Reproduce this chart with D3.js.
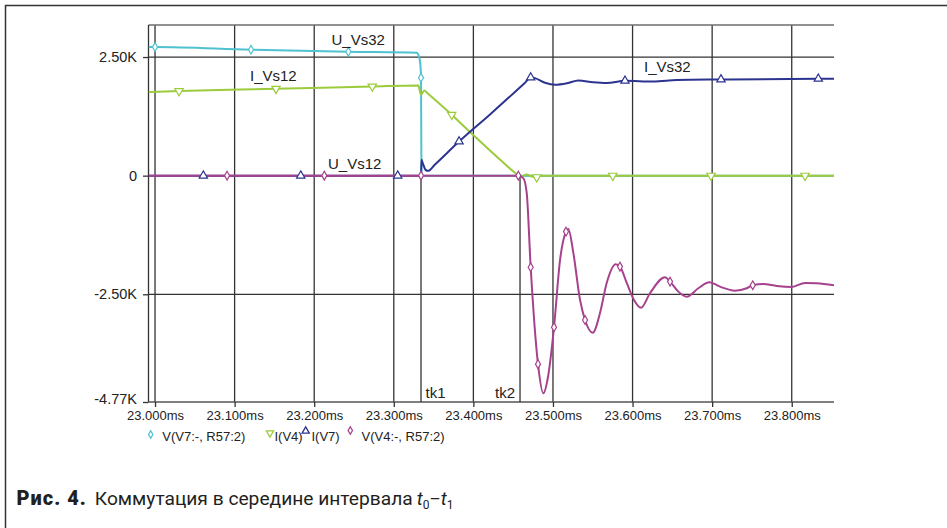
<!DOCTYPE html>
<html>
<head>
<meta charset="utf-8">
<script src="https://cdn.jsdelivr.net/npm/d3@7"></script>
<style>
  body { margin: 0; background: #fff; }
  svg { display: block; }
</style>
</head>
<body>
<svg id="chart" width="947" height="528"></svg>
<script>
// ---- axis ticks ----
const timeTicks = [23.0, 23.1, 23.2, 23.3, 23.4, 23.5, 23.6, 23.7, 23.8];
const timeTickLabels = ["23.000ms", "23.100ms", "23.200ms", "23.300ms", "23.400ms",
                        "23.500ms", "23.600ms", "23.700ms", "23.800ms"];
const valueTicks = [2500, 0, -2500, -4770];
const valueTickLabels = ["2.50K", "0", "-2.50K", "-4.77K"];
const timeDomain = [22.9918, 23.8531];
const valueDomain = [-4770, 3175];

// ---- traces: [time ms, value] ----
// V(V7:-, R57:2)  (U_Vs32)
const uVs32 = [
  [22.9918, 2710], [23.3288, 2590], [23.3317, 2505], [23.3333, 2358],
  [23.3346, 544], [23.3351, 0], [23.8531, 0]
];
const uVs32Markers = [[23.0000, 2710], [23.1206, 2653], [23.2429, 2611], [23.3342, 2063]];

// I(V4)  (I_Vs12)
const iVs12 = [
  [22.9918, 1761], [23.3308, 1900], [23.3342, 1704], [23.3384, 1795],
  [23.3420, 1743], [23.3958, 919], [23.4530, 49],
  [23.4565, 0], [23.4599, -25], [23.4670, 27], [23.4724, -15],
  [23.4850, 0], [23.8531, 0]
];
const iVs12Markers = [[23.0302, 1782], [23.1520, 1831], [23.2730, 1879], [23.3728, 1285],
                      [23.4796, -32], [23.5751, 0], [23.6986, 0], [23.8167, 0]];

// I(V7)  (I_Vs32)
const iVs32 = [
  [22.9918, 0], [23.3342, 0], [23.3348, 333], [23.3367, 249], [23.3399, 122],
  [23.3430, 101], [23.3518, 236], [23.4209, 1291], [23.4649, 1959],
  [23.4774, 2056], [23.4900, 1957], [23.5026, 1915],
  [23.5177, 1947], [23.5319, 2006], [23.5503, 1968], [23.5675, 1951],
  [23.6261, 1985], [23.6555, 2014], [23.8531, 2042]
];
const iVs32Markers = [[23.0607, 0], [23.1831, 0], [23.3049, 0], [23.3820, 719],
                      [23.4720, 2069], [23.5905, 1999], [23.7111, 2027], [23.8334, 2042]];

// V(V4:-, R57:2)  (U_Vs12)
const uVs12 = [
  [22.9918, 0], [23.4627, -53], [23.4670, -362], [23.4879, -4587], [23.4938, -4237],
  [23.5089, -1776], [23.5193, -1122], [23.5256, -1628], [23.5340, -2619],
  [23.5499, -3309], [23.5591, -2894], [23.5675, -2261], [23.5788, -1866],
  [23.5927, -2261], [23.6018, -2619], [23.6106, -2782], [23.6219, -2478],
  [23.6408, -2141], [23.6575, -2444], [23.6681, -2550], [23.6826, -2373],
  [23.6965, -2246], [23.7099, -2339], [23.7288, -2423], [23.7434, -2373],
  [23.7643, -2282], [23.7811, -2324], [23.8000, -2345], [23.8167, -2261],
  [23.8314, -2267], [23.8531, -2309]
];
const uVs12Markers = [[23.0905, 0], [23.2127, 0], [23.3342, 0], [23.4565, 0],
                      [23.4720, -1930], [23.4812, -3972], [23.5013, -3195], [23.5164, -1179],
                      [23.5403, -3041], [23.5842, -1917], [23.6471, -2233], [23.7510, -2309]];

// switching instants
const tkTimes = [23.3342, 23.4586];
const tkNames = ["tk1", "tk2"];

const traceNames = ["U_Vs32", "I_Vs12", "I_Vs32", "U_Vs12"];
const legendNames = ["V(V7:-, R57:2)", "I(V4)", "I(V7)", "V(V4:-, R57:2)"];

// ---- drawing ----
const svg = d3.select("#chart");
const plot = { left: 148.5, right: 834, top: 25, bottom: 402 };
const x = d3.scaleLinear().domain(timeDomain).range([plot.left, plot.right]);
const y = d3.scaleLinear().domain(valueDomain).range([plot.bottom, plot.top]);

const colors = {
  cyan: "#4fc1cf", green: "#9ccb3c", blue: "#2c3490", magenta: "#a6418e"
};
const chartFont = "'Liberation Sans', Arial, sans-serif";

// outer frame (top and left rules)
svg.append("line").attr("x1", 5).attr("x2", 947).attr("y1", 5.5).attr("y2", 5.5)
  .attr("stroke", "#333").attr("stroke-width", 1.5);
svg.append("line").attr("x1", 5.5).attr("x2", 5.5).attr("y1", 5).attr("y2", 528)
  .attr("stroke", "#333").attr("stroke-width", 1.5);

// grid
const grid = svg.append("g");
grid.selectAll(".vg").data(timeTicks).join("line")
  .attr("x1", d => x(d)).attr("x2", d => x(d))
  .attr("y1", plot.top).attr("y2", plot.bottom)
  .attr("stroke", "#333").attr("stroke-width", 1.3);
grid.selectAll(".hg").data(valueTicks.filter(v => v > valueDomain[0])).join("line")
  .attr("x1", plot.left).attr("x2", plot.right)
  .attr("y1", d => y(d)).attr("y2", d => y(d))
  .attr("stroke", "#333").attr("stroke-width", 1.3);
// top border
grid.append("line").attr("x1", plot.left).attr("x2", plot.right)
  .attr("y1", plot.top).attr("y2", plot.top)
  .attr("stroke", "#6e6e6e").attr("stroke-width", 1.6);
// left axis line
grid.append("line").attr("x1", plot.left).attr("x2", plot.left)
  .attr("y1", plot.top).attr("y2", plot.bottom)
  .attr("stroke", "#333").attr("stroke-width", 1.3);
// bottom axis line
grid.append("line").attr("x1", plot.left).attr("x2", plot.right)
  .attr("y1", plot.bottom).attr("y2", plot.bottom)
  .attr("stroke", "#555").attr("stroke-width", 1.6);

// axes (ticks + labels)
const xAxis = d3.axisBottom(x).tickValues(timeTicks)
  .tickFormat((d, i) => timeTickLabels[i]).tickSize(5).tickPadding(4);
const gx = svg.append("g").attr("transform", `translate(0,${plot.bottom})`).call(xAxis);
gx.select(".domain").remove();
gx.selectAll(".tick line").attr("stroke", "#333").attr("stroke-width", 1.3);
gx.selectAll(".tick text").attr("font-family", chartFont).attr("font-size", 13).attr("fill", "#222");

const yAxis = d3.axisLeft(y).tickValues(valueTicks)
  .tickFormat((d, i) => valueTickLabels[i]).tickSize(5.5).tickPadding(6);
const gy = svg.append("g").attr("transform", `translate(${plot.left},0)`).call(yAxis);
gy.select(".domain").remove();
gy.selectAll(".tick line").attr("stroke", "#333").attr("stroke-width", 1.3);
gy.selectAll(".tick text").attr("font-family", chartFont).attr("font-size", 14.5).attr("fill", "#222");
gy.selectAll(".tick").filter(d => d === -4770).select("text").attr("dy", "0.1em");

// switching markers
svg.selectAll(".tk").data(tkTimes).join("line")
  .attr("x1", d => x(d)).attr("x2", d => x(d))
  .attr("y1", y(0)).attr("y2", plot.bottom)
  .attr("stroke", "#333").attr("stroke-width", 1.3);
svg.append("text").text(tkNames[0]).attr("x", x(tkTimes[0]) + 4.5).attr("y", 398)
  .attr("font-family", chartFont).attr("font-size", 15).attr("fill", "#222");
svg.append("text").text(tkNames[1]).attr("x", x(tkTimes[1]) - 5).attr("y", 398)
  .attr("text-anchor", "end")
  .attr("font-family", chartFont).attr("font-size", 15).attr("fill", "#222");

// traces
const line = d3.line().x(d => x(d[0])).y(d => y(d[1])).curve(d3.curveMonotoneX);
const merge = (a, b) => a.concat(b).sort((p, q) => p[0] - q[0]);

const traces = [
  { pts: uVs32, marks: uVs32Markers, color: colors.cyan, sym: d3.symbolDiamond, rot: 0, size: 22 },
  { pts: iVs12, marks: iVs12Markers, color: colors.green, sym: d3.symbolTriangle, rot: 180, size: 30 },
  { pts: iVs32, marks: iVs32Markers, color: colors.blue, sym: d3.symbolTriangle, rot: 0, size: 30 },
  { pts: uVs12, marks: uVs12Markers, color: colors.magenta, sym: d3.symbolDiamond, rot: 0, size: 22 }
];

svg.append("clipPath").attr("id", "plotclip").append("rect")
  .attr("x", plot.left).attr("y", plot.top)
  .attr("width", plot.right - plot.left).attr("height", plot.bottom - plot.top);

const tg = svg.append("g").attr("clip-path", "url(#plotclip)");
traces.forEach(tr => {
  tg.append("path").datum(merge(tr.pts, tr.marks))
    .attr("d", line).attr("fill", "none")
    .attr("stroke", tr.color).attr("stroke-width", 2)
    .attr("stroke-linejoin", "round");
});
traces.forEach(tr => {
  tg.selectAll(null).data(tr.marks).join("path")
    .attr("d", d3.symbol().type(tr.sym).size(tr.size))
    .attr("transform", d => `translate(${x(d[0])},${y(d[1])}) rotate(${tr.rot})`)
    .attr("fill", "#fff").attr("stroke", tr.color).attr("stroke-width", 1.2);
});

// trace labels
const labelStyle = s => s.attr("font-family", chartFont).attr("font-size", 15).attr("fill", "#222");
svg.append("text").text(traceNames[0]).attr("x", 331.5).attr("y", 44.5).call(labelStyle);
svg.append("text").text(traceNames[1]).attr("x", 250).attr("y", 81).call(labelStyle);
svg.append("text").text(traceNames[2]).attr("x", 644).attr("y", 72).call(labelStyle);
svg.append("text").text(traceNames[3]).attr("x", 328).attr("y", 168.5).call(labelStyle);

// legend
const legend = svg.append("g").attr("font-family", chartFont).attr("font-size", 13).attr("fill", "#222");
const legendItems = [
  { sx: 150.7, sy: 434.5, tx: 162.3 },
  { sx: 270, sy: 433, tx: 274.5 },
  { sx: 305.7, sy: 431, tx: 311.5 },
  { sx: 350.3, sy: 430.5, tx: 361.5 }
];
legendItems.forEach((it, i) => {
  const tr = traces[i];
  legend.append("path")
    .attr("d", d3.symbol().type(tr.sym).size(tr.size * 0.75))
    .attr("transform", `translate(${it.sx},${it.sy}) rotate(${tr.rot})`)
    .attr("fill", "#fff").attr("stroke", tr.color).attr("stroke-width", 1.3);
  legend.append("text").text(legendNames[i]).attr("x", it.tx).attr("y", 440.5);
});

// caption
const cap = svg.append("text").attr("x", 16.5).attr("y", 505)
  .attr("font-family", "Roboto, 'Noto Sans', sans-serif").attr("font-size", 20).attr("fill", "#231f20");
cap.append("tspan").attr("font-weight", 900).attr("letter-spacing", 1).text("Рис. 4.");
cap.append("tspan").attr("dx", 8).attr("font-size", 19.2).text("Коммутация в середине интервала");
cap.append("tspan").attr("dx", 4).attr("font-style", "italic").attr("font-size", 19).text("t");
cap.append("tspan").attr("font-size", 12).attr("dy", 4).text("0");
cap.append("tspan").attr("dy", -4).attr("font-size", 17).text("–");
cap.append("tspan").attr("font-style", "italic").attr("font-size", 19).text("t");
cap.append("tspan").attr("font-size", 12).attr("dy", 4).text("1");
</script>
</body>
</html>
